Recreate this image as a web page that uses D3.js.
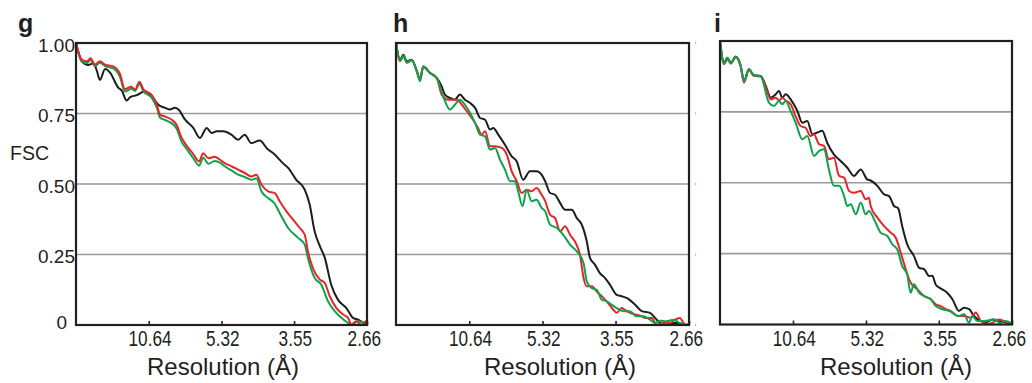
<!DOCTYPE html>
<html>
<head>
<meta charset="utf-8">
<script src="https://cdn.jsdelivr.net/npm/d3@7"></script>
<style>
  body { margin: 0; background: #fff; }
  svg { display: block; font-family: "Liberation Sans", Arial, Helvetica, sans-serif; }
</style>
</head>
<body>
<div id="chart"></div>
<script>
// x values are fractions of Nyquist (1/2.66 A^-1), y values are FSC
var nyquist = 2.66;
var resTicks = [10.64, 5.32, 3.55, 2.66];
var fscTicks = [0, 0.25, 0.5, 0.75, 1];
var fscLabels = ["0", "0.25", "0.50", "0.75", "1.00"];

var gBlack = [[0,1],[0.02,0.934],[0.042,0.922],[0.06,0.928],[0.072,0.9],[0.082,0.869],[0.1,0.908],[0.117,0.895],[0.145,0.842],[0.157,0.832],[0.174,0.796],[0.186,0.808],[0.209,0.815],[0.237,0.829],[0.26,0.811],[0.283,0.781],[0.306,0.77],[0.323,0.764],[0.34,0.77],[0.352,0.764],[0.375,0.728],[0.403,0.699],[0.426,0.663],[0.449,0.699],[0.466,0.681],[0.484,0.687],[0.506,0.687],[0.534,0.675],[0.557,0.657],[0.58,0.675],[0.602,0.645],[0.631,0.654],[0.66,0.622],[0.677,0.61],[0.711,0.574],[0.729,0.557],[0.757,0.515],[0.786,0.48],[0.803,0.427],[0.82,0.332],[0.838,0.28],[0.855,0.238],[0.877,0.143],[0.9,0.09],[0.929,0.06],[0.952,0.025],[0.969,0.019],[0.992,0.007],[1,0.01]];
var gRed = [[0,1],[0.02,0.941],[0.037,0.935],[0.05,0.946],[0.065,0.923],[0.082,0.935],[0.1,0.923],[0.128,0.917],[0.151,0.89],[0.168,0.836],[0.19,0.845],[0.203,0.835],[0.218,0.863],[0.232,0.835],[0.26,0.816],[0.278,0.78],[0.289,0.746],[0.306,0.739],[0.329,0.728],[0.346,0.709],[0.362,0.666],[0.38,0.636],[0.403,0.606],[0.423,0.58],[0.437,0.609],[0.455,0.591],[0.477,0.597],[0.495,0.586],[0.511,0.574],[0.534,0.563],[0.557,0.551],[0.58,0.539],[0.602,0.527],[0.62,0.533],[0.637,0.498],[0.66,0.474],[0.683,0.468],[0.7,0.439],[0.723,0.403],[0.746,0.374],[0.769,0.344],[0.786,0.32],[0.797,0.261],[0.814,0.202],[0.838,0.161],[0.855,0.149],[0.872,0.102],[0.895,0.06],[0.918,0.037],[0.935,0.025],[0.946,0.001],[0.963,0.013],[0.98,0.001],[0.998,0.015]];
var gGreen = [[0,1],[0.02,0.935],[0.037,0.928],[0.05,0.94],[0.065,0.918],[0.082,0.93],[0.1,0.918],[0.128,0.91],[0.151,0.88],[0.168,0.828],[0.19,0.838],[0.203,0.83],[0.218,0.855],[0.232,0.828],[0.26,0.806],[0.278,0.77],[0.289,0.735],[0.306,0.727],[0.329,0.715],[0.346,0.696],[0.362,0.652],[0.38,0.624],[0.403,0.592],[0.423,0.565],[0.437,0.593],[0.455,0.572],[0.477,0.582],[0.495,0.576],[0.511,0.563],[0.534,0.548],[0.557,0.533],[0.58,0.525],[0.602,0.515],[0.62,0.52],[0.637,0.474],[0.66,0.45],[0.683,0.43],[0.7,0.397],[0.729,0.344],[0.763,0.309],[0.786,0.285],[0.797,0.238],[0.82,0.167],[0.843,0.143],[0.866,0.084],[0.889,0.049],[0.906,0.031],[0.935,0.007],[0.946,0],[0.969,0.013],[0.992,0.007]];

var hBlack = [[0,1],[0.014,0.941],[0.025,0.958],[0.037,0.935],[0.054,0.941],[0.071,0.9],[0.082,0.87],[0.093,0.917],[0.116,0.894],[0.139,0.876],[0.156,0.846],[0.167,0.817],[0.184,0.805],[0.201,0.799],[0.218,0.817],[0.235,0.799],[0.253,0.787],[0.27,0.77],[0.287,0.734],[0.304,0.728],[0.321,0.693],[0.332,0.699],[0.349,0.675],[0.372,0.639],[0.395,0.598],[0.412,0.58],[0.434,0.515],[0.457,0.545],[0.48,0.545],[0.497,0.533],[0.509,0.51],[0.526,0.468],[0.543,0.462],[0.56,0.433],[0.577,0.409],[0.6,0.409],[0.617,0.379],[0.634,0.356],[0.651,0.297],[0.662,0.238],[0.679,0.214],[0.696,0.184],[0.713,0.167],[0.73,0.143],[0.753,0.107],[0.77,0.102],[0.787,0.096],[0.816,0.072],[0.839,0.049],[0.867,0.043],[0.89,0.019],[0.912,0.001],[0.935,0.007],[0.958,0.007],[0.981,0.002],[1,0]];
var hRed = [[0,1],[0.014,0.935],[0.025,0.952],[0.037,0.93],[0.054,0.938],[0.071,0.9],[0.082,0.872],[0.093,0.915],[0.116,0.894],[0.139,0.876],[0.156,0.817],[0.179,0.799],[0.208,0.799],[0.229,0.775],[0.246,0.752],[0.263,0.728],[0.28,0.699],[0.292,0.675],[0.304,0.687],[0.321,0.634],[0.338,0.634],[0.361,0.628],[0.378,0.604],[0.395,0.545],[0.412,0.51],[0.429,0.468],[0.446,0.48],[0.463,0.474],[0.48,0.486],[0.497,0.462],[0.509,0.44],[0.526,0.391],[0.543,0.379],[0.56,0.332],[0.577,0.35],[0.594,0.32],[0.616,0.285],[0.628,0.249],[0.64,0.167],[0.651,0.137],[0.668,0.137],[0.685,0.119],[0.708,0.096],[0.724,0.078],[0.742,0.054],[0.753,0.043],[0.77,0.06],[0.787,0.049],[0.816,0.037],[0.833,0.033],[0.85,0.025],[0.873,0.025],[0.89,0.001],[0.912,0.007],[0.935,0.007],[0.952,0.019],[0.969,0.025],[0.986,0.002],[1,0]];
var hGreen = [[0,1],[0.014,0.938],[0.025,0.955],[0.037,0.932],[0.054,0.94],[0.071,0.9],[0.082,0.864],[0.093,0.917],[0.116,0.894],[0.139,0.876],[0.161,0.811],[0.184,0.764],[0.201,0.781],[0.218,0.799],[0.235,0.781],[0.253,0.752],[0.27,0.716],[0.287,0.675],[0.304,0.669],[0.321,0.622],[0.338,0.628],[0.355,0.586],[0.372,0.551],[0.389,0.51],[0.406,0.51],[0.417,0.474],[0.432,0.421],[0.446,0.48],[0.463,0.439],[0.48,0.444],[0.497,0.415],[0.509,0.403],[0.526,0.356],[0.549,0.344],[0.571,0.32],[0.594,0.285],[0.617,0.261],[0.64,0.22],[0.651,0.155],[0.668,0.131],[0.685,0.125],[0.702,0.09],[0.719,0.084],[0.736,0.072],[0.753,0.06],[0.776,0.049],[0.798,0.049],[0.821,0.031],[0.844,0.031],[0.867,0.019],[0.884,0.007],[0.901,0.015],[0.924,0.013],[0.947,0.019],[0.969,0.007],[0.986,0],[1,0.003]];

var iBlack = [[0,1],[0.014,0.923],[0.025,0.941],[0.037,0.923],[0.054,0.945],[0.071,0.912],[0.082,0.859],[0.099,0.9],[0.116,0.879],[0.139,0.877],[0.157,0.841],[0.174,0.8],[0.191,0.812],[0.202,0.824],[0.213,0.8],[0.225,0.812],[0.242,0.794],[0.265,0.753],[0.282,0.712],[0.299,0.718],[0.316,0.671],[0.333,0.677],[0.35,0.683],[0.367,0.641],[0.39,0.6],[0.413,0.577],[0.436,0.553],[0.459,0.524],[0.482,0.547],[0.504,0.512],[0.516,0.508],[0.539,0.489],[0.562,0.459],[0.579,0.453],[0.596,0.418],[0.61,0.41],[0.624,0.347],[0.641,0.283],[0.664,0.242],[0.682,0.2],[0.699,0.195],[0.716,0.171],[0.727,0.172],[0.739,0.14],[0.756,0.127],[0.778,0.112],[0.796,0.089],[0.818,0.048],[0.836,0.059],[0.853,0.054],[0.87,0.03],[0.893,0.012],[0.915,0.009],[0.933,0.018],[0.955,0.012],[0.984,0.006],[1,0.004]];
var iRed = [[0,1],[0.014,0.918],[0.025,0.936],[0.037,0.92],[0.054,0.943],[0.071,0.91],[0.082,0.853],[0.099,0.898],[0.116,0.877],[0.139,0.875],[0.157,0.835],[0.174,0.794],[0.191,0.8],[0.202,0.79],[0.213,0.8],[0.225,0.79],[0.242,0.777],[0.259,0.735],[0.276,0.7],[0.293,0.694],[0.31,0.665],[0.322,0.67],[0.339,0.636],[0.356,0.63],[0.373,0.583],[0.39,0.588],[0.408,0.524],[0.425,0.518],[0.442,0.471],[0.459,0.465],[0.482,0.471],[0.499,0.442],[0.51,0.447],[0.516,0.418],[0.539,0.377],[0.562,0.347],[0.585,0.324],[0.602,0.306],[0.619,0.253],[0.636,0.195],[0.653,0.147],[0.676,0.124],[0.699,0.1],[0.722,0.089],[0.739,0.071],[0.756,0.065],[0.773,0.054],[0.79,0.048],[0.813,0.03],[0.836,0.03],[0.859,0.024],[0.876,0.042],[0.893,0.012],[0.915,0.001],[0.933,0.006],[0.955,0.018],[0.973,0.012],[1,0.004]];
var iGreen = [[0,1],[0.014,0.92],[0.025,0.94],[0.037,0.922],[0.054,0.944],[0.071,0.91],[0.082,0.857],[0.099,0.9],[0.116,0.879],[0.139,0.876],[0.168,0.782],[0.185,0.771],[0.202,0.788],[0.213,0.777],[0.225,0.788],[0.242,0.753],[0.259,0.712],[0.282,0.653],[0.299,0.665],[0.322,0.594],[0.339,0.612],[0.356,0.618],[0.373,0.547],[0.39,0.489],[0.408,0.489],[0.425,0.453],[0.436,0.418],[0.448,0.424],[0.465,0.389],[0.482,0.43],[0.499,0.389],[0.51,0.4],[0.533,0.359],[0.55,0.324],[0.573,0.312],[0.59,0.283],[0.607,0.265],[0.624,0.206],[0.641,0.177],[0.653,0.112],[0.664,0.142],[0.682,0.112],[0.699,0.1],[0.722,0.089],[0.739,0.065],[0.762,0.054],[0.784,0.048],[0.818,0.03],[0.836,0.036],[0.853,0.006],[0.864,0.03],[0.881,0.012],[0.904,0.012],[0.942,0.018],[0.959,0.004],[0.976,0.012],[1,0.004]];

var black = "#1d1d1b", red = "#e8242b", green = "#0ea34b";

var panels = [
  { letter: "g", l: 76, r: 367, t: 43, b: 325, letterX: 18, titleX: 223, yLabels: true,
    series: [[gBlack, black], [gGreen, green], [gRed, red]] },
  { letter: "h", l: 396, r: 689, t: 43, b: 325, letterX: 393, titleX: 560, rightDots: true,
    series: [[hBlack, black], [hRed, red], [hGreen, green]] },
  { letter: "i", l: 720, r: 1012, t: 41, b: 324.5, letterX: 714, titleX: 896,
    series: [[iBlack, black], [iRed, red], [iGreen, green]] }
];

var svg = d3.select("#chart").append("svg")
  .attr("width", 1032)
  .attr("height", 383);

panels.forEach(function(p) {
  var x = d3.scaleLinear().domain([0, 1]).range([p.l, p.r]);
  var y = d3.scaleLinear().domain([0, 1]).range([p.b, p.t]);
  var g = svg.append("g");

  // grid
  g.selectAll(".grid")
    .data([0.25, 0.5, 0.75])
    .enter().append("line")
    .attr("x1", p.l).attr("x2", p.r)
    .attr("y1", function(d) { return y(d); })
    .attr("y2", function(d) { return y(d); })
    .attr("stroke", "#9a9a9a")
    .attr("stroke-width", 1.6);

  if (p.rightDots) {
    g.selectAll(".dot")
      .data(fscTicks)
      .enter().append("rect")
      .attr("x", p.r + 6).attr("width", 1.2)
      .attr("y", function(d) { return y(d) - 1; }).attr("height", 2)
      .attr("fill", "#b5b5b5");
  }

  var line = d3.line()
    .x(function(d) { return x(d[0]); })
    .y(function(d) { return y(d[1]); })
    .curve(d3.curveMonotoneX);

  p.series.forEach(function(s) {
    g.append("path")
      .datum(s[0])
      .attr("d", line)
      .attr("fill", "none")
      .attr("stroke", s[1])
      .attr("stroke-width", 2)
      .attr("stroke-linejoin", "round");
  });

  // frame
  g.append("rect")
    .attr("x", p.l).attr("y", p.t)
    .attr("width", p.r - p.l).attr("height", p.b - p.t)
    .attr("fill", "none")
    .attr("stroke", "#231f20")
    .attr("stroke-width", 2.2);

  // x ticks, placed at nyquist/resolution
  var xAxis = d3.axisBottom(x)
    .tickValues(resTicks.map(function(r) { return nyquist / r; }))
    .tickSize(-4)
    .tickPadding(6)
    .tickFormat(function(d) { return d3.format(".2f")(nyquist / d); });

  var ax = g.append("g")
    .attr("transform", "translate(0," + p.b + ")")
    .call(xAxis);
  ax.select(".domain").remove();
  ax.selectAll(".tick line").attr("stroke", "#231f20").attr("stroke-width", 1.6);
  // condensed look: squash the labels around their tick
  ax.selectAll(".tick text")
    .attr("fill", "#231f20")
    .attr("dx", function(d) { return d === 1 ? -4 : 1; })
    .attr("transform", "scale(0.8,1)")
    .style("font-size", "21.5px")
    .style("font-family", "'Liberation Sans', Arial, sans-serif");

  if (p.yLabels) {
    g.selectAll(".ylab")
      .data(fscTicks)
      .enter().append("text")
      .attr("x", function(d) { return d === 0 ? p.l - 9 : p.l - 1; })
      .attr("y", function(d) { return y(d) + (d === 0 ? -3 : 2); })
      .attr("dy", "0.35em")
      .attr("text-anchor", "end")
      .style("font-size", "19px")
      .attr("fill", "#231f20")
      .text(function(d, i) { return fscLabels[i]; });

    g.append("text")
      .attr("x", 10).attr("y", 160)
      .style("font-size", "19.5px")
      .attr("fill", "#231f20")
      .text("FSC");
  }

  g.append("text")
    .attr("x", p.titleX).attr("y", 375)
    .attr("text-anchor", "middle")
    .style("font-size", "24px")
    .attr("fill", "#231f20")
    .text("Resolution (\u00c5)");

  g.append("text")
    .attr("x", p.letterX).attr("y", 32)
    .style("font-size", "25px")
    .style("font-weight", "bold")
    .attr("fill", "#231f20")
    .text(p.letter);
});
</script>
</body>
</html>
